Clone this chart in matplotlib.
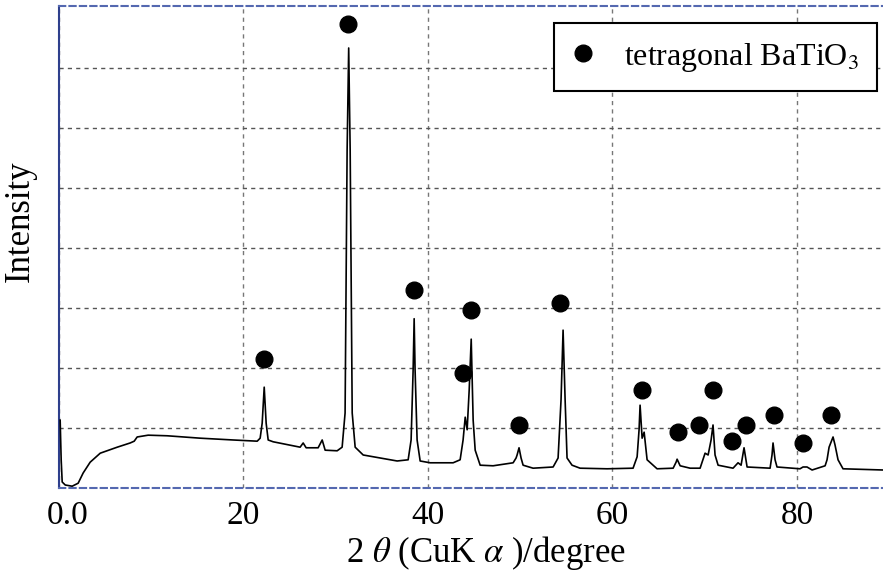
import matplotlib
matplotlib.use("Agg")
from matplotlib import pyplot as plt
from matplotlib.lines import Line2D
from matplotlib.transforms import ScaledTranslation

plt.rcParams['font.family'] = ['Liberation Serif', 'DejaVu Serif']
plt.rcParams['mathtext.fontset'] = 'stix'

# XRD pattern (2theta in degree, intensity in arb. units)
two_theta = [0.18, 0.29, 0.40, 0.73, 1.48, 2.13, 2.67, 3.43, 4.52, 6.36,
             7.76, 8.20, 8.52, 9.71, 11.77, 15.34, 18.92, 21.52, 21.84, 22.06,
             22.28, 22.49, 22.71, 23.25, 26.17, 26.50, 26.82, 28.12, 28.56, 28.88,
             30.18, 30.72, 31.04, 31.26, 31.43, 31.59, 31.81, 32.13, 33.00, 34.84,
             36.68, 37.87, 38.19, 38.41, 38.52, 38.62, 38.84, 39.17, 40.25, 42.74,
             43.50, 43.82, 44.05, 44.26, 44.48, 44.70, 44.91, 45.13, 45.67, 47.07,
             49.24, 49.56, 49.67, 49.88, 50.10, 50.32, 51.40, 53.57, 54.11, 54.43,
             54.65, 54.87, 55.08, 55.62, 56.49, 59.41, 62.23, 62.67, 62.88, 62.99,
             63.21, 63.43, 63.75, 64.83, 66.57, 66.89, 67.00, 67.33, 68.41, 69.49,
             70.03, 70.36, 70.68, 70.89, 71.11, 71.44, 73.06, 73.60, 73.93, 74.25,
             74.58, 77.07, 77.28, 77.39, 77.61, 77.82, 80.31, 80.64, 81.07, 81.62,
             83.03, 83.24, 83.46, 83.89, 84.10, 84.43, 84.97, 89.30]
intensity = [1.13, 0.47, 0.10, 0.05, 0.03, 0.08, 0.25, 0.43, 0.58, 0.68,
             0.75, 0.78, 0.85, 0.88, 0.87, 0.83, 0.80, 0.78, 0.83, 1.08,
             1.68, 1.08, 0.80, 0.77, 0.68, 0.75, 0.67, 0.67, 0.80, 0.63,
             0.62, 0.68, 1.25, 5.63, 7.33, 5.63, 1.25, 0.68, 0.55, 0.50,
             0.45, 0.47, 0.80, 1.97, 2.82, 1.97, 0.80, 0.45, 0.42, 0.42,
             0.47, 0.80, 1.18, 0.97, 1.63, 2.48, 1.13, 0.63, 0.38, 0.37,
             0.42, 0.50, 0.55, 0.67, 0.50, 0.38, 0.33, 0.35, 0.50, 1.47,
             2.63, 1.47, 0.50, 0.38, 0.33, 0.32, 0.33, 0.52, 0.97, 1.38,
             0.83, 0.93, 0.47, 0.32, 0.33, 0.43, 0.48, 0.37, 0.33, 0.33,
             0.58, 0.55, 0.80, 1.05, 0.55, 0.38, 0.33, 0.42, 0.38, 0.67,
             0.35, 0.33, 0.55, 0.75, 0.47, 0.35, 0.32, 0.35, 0.35, 0.30,
             0.37, 0.47, 0.68, 0.85, 0.72, 0.47, 0.32, 0.30]

# tetragonal BaTiO3 markers
mark_x = [31.37, 22.27, 38.51, 44.67, 43.82, 49.88, 54.33, 63.2, 67.1, 69.4,
          70.9, 72.95, 74.46, 77.5, 80.6, 83.67]
mark_y = [7.73, 2.15, 3.30, 2.97, 1.92, 1.05, 3.08, 1.63, 0.93, 1.05,
          1.63, 0.78, 1.05, 1.22, 0.75, 1.22]

xticks = [0, 20, 40, 60, 80]
xtick_labels = ['0.0', '20', '40', '60', '80']

fig = plt.figure(figsize=(8.83, 5.78), dpi=100)
ax = fig.add_axes([58.5 / 883, 1 - 488 / 578, 1 - 58.5 / 883, (488 - 6) / 578])

ax.plot(two_theta, intensity, color='black', lw=1.2, zorder=3)
ax.plot(mark_x, mark_y, 'o', color='black', ms=12, zorder=4)

ax.set_xlim(0, 89.3)
ax.set_ylim(0, 8.03)
ax.set_xticks(xticks)
ax.set_xticklabels(xtick_labels)
ax.set_yticks([1, 2, 3, 4, 5, 6, 7])
ax.tick_params(axis='y', length=0, labelleft=False)
ax.tick_params(axis='x', length=0, labelsize=24, pad=9)
# the "0.0" label sits a little right of its tick in the original
lbl0 = ax.get_xticklabels()[0]
lbl0.set_transform(lbl0.get_transform() + ScaledTranslation(0.09, 0, fig.dpi_scale_trans))

ax.grid(True, axis='y', color='#555555', ls=(0, (3, 3)), lw=1)
ax.grid(True, axis='x', color='#777777', ls=(0, (3, 3)), lw=1)

ax.spines['right'].set_visible(False)
ax.spines['left'].set_color('#2e3f8c')
ax.spines['left'].set_linewidth(1.5)
for s in ['top', 'bottom']:
    ax.spines[s].set_color('#5468b0')
    ax.spines[s].set_linestyle((0, (3, 2)))
    ax.spines[s].set_linewidth(1.5)

ax.set_xlabel(r'2 $\theta$ (CuK $\alpha$ )/degree', fontsize=25)
ax.xaxis.set_label_coords(0.519, -0.095)
ax.set_ylabel('Intensity', fontsize=25)
ax.yaxis.set_label_coords(-0.026, 0.554)

handle = Line2D([], [], marker='o', color='black', ls='none', ms=12)
leg = fig.legend([handle], [r'tetragonal BaTiO$_3$'], loc='upper right',
                 bbox_to_anchor=(877 / 883, 1 - 23 / 578), fontsize=23,
                 frameon=True, fancybox=False, edgecolor='black',
                 framealpha=1, borderpad=0.55, handletextpad=0.95,
                 handlelength=0.7, borderaxespad=0)
leg.get_frame().set_linewidth(1.5)

fig.savefig('out.png', dpi=100)
